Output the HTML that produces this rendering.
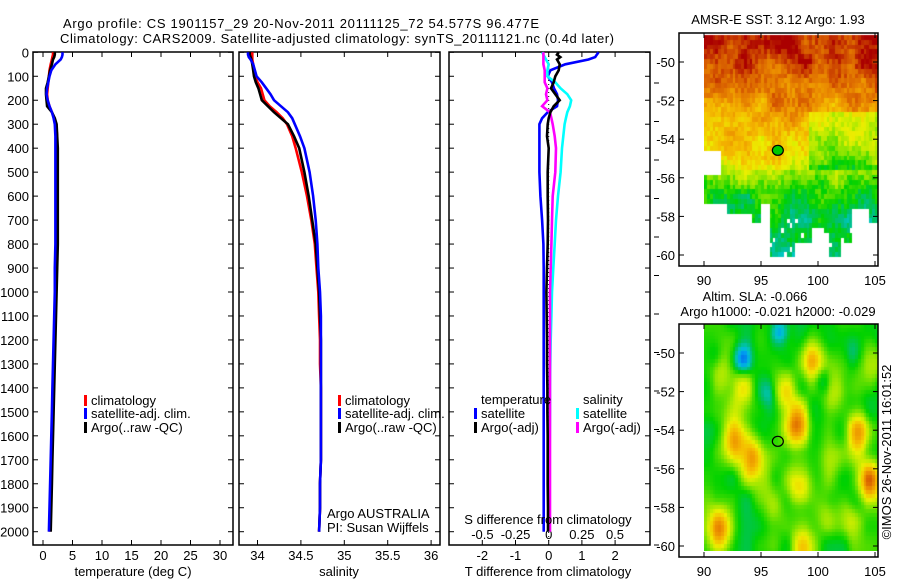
<!DOCTYPE html>
<html><head><meta charset="utf-8">
<style>
html,body{margin:0;padding:0;background:#fff;}
#wrap{position:relative;width:900px;height:580px;overflow:hidden;}
svg{position:absolute;left:0;top:0;}
canvas{position:absolute;}
text{font-family:"Liberation Sans",sans-serif;font-size:13px;fill:#000;}
</style></head>
<body>
<div id="wrap">
<canvas id="sst" width="174" height="227" style="left:704px;top:33px"></canvas>
<canvas id="sla" width="174" height="227" style="left:704px;top:324px"></canvas>
<svg id="fig" width="900" height="580" xmlns="http://www.w3.org/2000/svg">
<text x="63" y="28" font-size="14" textLength="476">Argo profile: CS 1901157_29 20-Nov-2011 20111125_72 54.577S 96.477E</text>
<text x="60" y="43" font-size="14" textLength="554">Climatology: CARS2009. Satellite-adjusted climatology: synTS_20111121.nc (0.4d later)</text>
<g id="g1"></g>
<g id="g2"></g>
<g id="g3"></g>
<g id="gm"></g>
</svg>
</div>
<script>
// ---- profile data ----
const depth = [0,10,20,30,50,75,100,125,150,175,200,225,250,275,300,350,400,500,600,700,800,900,1000,1100,1200,1300,1400,1500,1600,1700,1800,1900,2000];
const tClim = [1.7,1.7,1.6,1.5,1.3,1.1,1.0,0.9,0.8,0.7,0.8,1.1,1.5,1.9,2.2,2.4,2.4,2.4,2.4,2.3,2.3,2.2,2.1,2.0,1.9,1.8,1.7,1.6,1.5,1.4,1.3,1.2,1.1];
const tSat = [3.3,3.3,3.2,3.0,2.1,1.4,1.1,0.9,0.7,0.6,0.8,1.1,1.5,1.8,2.0,2.1,2.1,2.1,2.1,2.1,2.1,2.0,2.0,1.9,1.8,1.7,1.6,1.5,1.4,1.3,1.2,1.1,1.0];
const tArgo = [2.0,2.0,1.9,1.7,1.5,1.2,1.0,0.8,0.5,0.5,0.6,0.7,1.5,2.0,2.3,2.4,2.5,2.5,2.5,2.5,2.5,2.4,2.3,2.2,2.1,2.0,1.9,1.8,1.7,1.6,1.5,1.4,1.3];
const sClim = [33.94,33.94,33.94,33.94,33.95,33.96,33.97,34.0,34.04,34.06,34.08,34.14,34.22,34.29,34.34,34.40,34.44,34.51,34.57,34.62,34.66,34.68,34.70,34.71,34.72,34.72,34.73,34.73,34.73,34.73,34.72,34.72,34.71];
const sSat = [33.89,33.89,33.9,33.92,33.95,33.97,33.99,34.05,34.10,34.15,34.19,34.27,34.35,34.40,34.43,34.49,34.54,34.60,34.64,34.67,34.69,34.70,34.72,34.73,34.73,34.73,34.73,34.73,34.73,34.73,34.72,34.72,34.71];
const sArgo = [33.91,33.91,33.92,33.93,33.94,33.95,33.96,33.98,34.01,34.03,34.05,34.12,34.19,34.27,34.35,34.42,34.48,34.54,34.59,34.63,34.67,34.69,34.71,34.72,34.73,34.73,34.73,34.73,34.73,34.73,34.72,34.72,34.71];
const dTsat = [1.5,1.45,1.4,1.2,0.5,0.05,-0.03,0.1,0.16,0.25,0.28,0.25,-0.03,-0.2,-0.28,-0.28,-0.28,-0.28,-0.25,-0.2,-0.16,-0.15,-0.15,-0.15,-0.15,-0.15,-0.15,-0.15,-0.15,-0.15,-0.15,-0.15,-0.15];
const dTargo = [0.3,0.25,0.35,0.25,0.33,0.3,0.2,0.15,0.07,0.2,0.33,0.15,0.05,0.0,-0.03,-0.05,0.0,-0.03,-0.03,-0.02,-0.03,-0.05,-0.07,-0.06,-0.05,-0.05,-0.04,-0.04,-0.03,-0.03,-0.03,-0.02,-0.02];
const dSsat = [-0.05,-0.04,-0.03,-0.02,0.0,-0.01,-0.01,0.05,0.09,0.14,0.17,0.16,0.14,0.13,0.12,0.11,0.1,0.09,0.07,0.055,0.045,0.035,0.025,0.02,0.015,0.012,0.01,0.01,0.008,0.006,0.004,0.002,0.0];
const dSargo = [-0.04,-0.04,-0.04,-0.04,-0.04,-0.03,-0.03,-0.03,-0.01,-0.02,-0.01,-0.05,0.01,0.02,0.03,0.045,0.055,0.05,0.03,0.025,0.02,0.015,0.01,0.01,0.01,0.01,0.01,0.01,0.01,0.01,0.01,0.01,0.01];
const depthTicks = [0,100,200,300,400,500,600,700,800,900,1000,1100,1200,1300,1400,1500,1600,1700,1800,1900,2000];
const tTicks = [0,5,10,15,20,25,30];
const sTicks = [34,34.5,35,35.5,36];
const sTickLabels = ["34","34.5","35","35.5","36"];
const dTTicks = [-2,-1,0,1,2];
const dSTicks = [-0.5,-0.25,0,0.25,0.5];
const dSTickLabels = ["-0.5","-0.25","0","0.25","0.5"];

const NS='http://www.w3.org/2000/svg';
function mk(parent,tag,attrs,txt){const e=document.createElementNS(NS,tag);for(const k in attrs)e.setAttribute(k,attrs[k]);if(txt!==undefined)e.textContent=txt;parent.appendChild(e);return e;}
const yD = d => 52.3 + d*0.2397;
const TOP=52, BOT=545;

function frame(g,x0,x1,name){
  const r=mk(g,'rect',{x:x0,y:TOP,width:x1-x0,height:BOT-TOP,fill:'none',stroke:'#000','stroke-width':1.5});
  
  
  depthTicks.forEach(d=>{
    mk(g,'line',{x1:x0,x2:x0+5,y1:yD(d),y2:yD(d),stroke:'#000'});
    mk(g,'line',{x1:x1,x2:x1-5,y1:yD(d),y2:yD(d),stroke:'#000'});
  });
}
function xticks(g,ticks,labels,fx,y,name){
  ticks.forEach((t,i)=>{
    const x=fx(t);
    mk(g,'line',{x1:x,x2:x,y1:BOT,y2:BOT-5,stroke:'#000'});
    mk(g,'line',{x1:x,x2:x,y1:TOP,y2:TOP+5,stroke:'#000'});
    const tx=mk(g,'text',{x:x,y:y,'text-anchor':'middle'},labels[i]);
    
    
  });
}
function line(g,vals,fx,color,name,w){
  const pts=vals.map((v,i)=>fx(v).toFixed(1)+','+yD(depth[i]).toFixed(1)).join(' ');
  const p=mk(g,'polyline',{points:pts,fill:'none',stroke:color,'stroke-width':w||2.6,'stroke-linejoin':'miter'});
  
  
}
function legend(g,x,y,color,label,name){
  mk(g,'rect',{x:x,y:y-10,width:3,height:11,fill:color});
  const t=mk(g,'text',{x:x+7,y:y},label);
  
  
}

// Panel 1: temperature
const g1=document.getElementById('g1');
const xT = t => 43 + t*5.9;
frame(g1,33,233,'temperature-axes');
depthTicks.forEach(d=>{
  const t=mk(g1,'text',{x:29,y:yD(d)+5,'text-anchor':'end'},String(d));
  
  
});
xticks(g1,tTicks,tTicks.map(String),xT,560,'temperature-tick-label');
line(g1,tClim,xT,'#f00','temperature-climatology-line');
line(g1,tArgo,xT,'#000','temperature-argo-line');
line(g1,tSat,xT,'#00f','temperature-satellite-line');
{const t=mk(g1,'text',{x:133,y:576,'text-anchor':'middle'},'temperature (deg C)');}
legend(g1,84,405,'#f00','climatology','legend-climatology');
legend(g1,84,418,'#00f','satellite-adj. clim.','legend-satellite-adj');
legend(g1,84,432,'#000','Argo(..raw -QC)','legend-argo');

// Panel 2: salinity
const g2=document.getElementById('g2');
const xS = s => 257.5 + (s-34)*86.8;
frame(g2,239,440,'salinity-axes');
xticks(g2,sTicks,sTickLabels,xS,560,'salinity-tick-label');
line(g2,sClim,xS,'#f00','salinity-climatology-line');
line(g2,sArgo,xS,'#000','salinity-argo-line');
line(g2,sSat,xS,'#00f','salinity-satellite-line');
{const t=mk(g2,'text',{x:339,y:576,'text-anchor':'middle'},'salinity');}
legend(g2,338,405,'#f00','climatology','legend-climatology');
legend(g2,338,418,'#00f','satellite-adj. clim.','legend-satellite-adj');
legend(g2,338,432,'#000','Argo(..raw -QC)','legend-argo');
{const t=mk(g2,'text',{x:327,y:518},'Argo AUSTRALIA');}
{const t=mk(g2,'text',{x:327,y:532},'PI: Susan Wijffels');}

// Panel 3: differences
const g3=document.getElementById('g3');
const xdT = v => 548.7 + v*33.2;
const xdS = v => 548.7 + v*132.6;
frame(g3,449,650,'difference-axes');
xticks(g3,dTTicks,dTTicks.map(String),xdT,560,'t-diff-tick-label');
dSTicks.forEach((v,i)=>{const t=mk(g3,'text',{x:xdS(v),y:539,'text-anchor':'middle'},dSTickLabels[i]);});
mk(g3,'line',{x1:xdT(0),x2:xdT(0),y1:TOP,y2:BOT,stroke:'#000','stroke-dasharray':'1,3'});
line(g3,dTsat,xdT,'#00f','t-diff-satellite-line');
line(g3,dSsat,xdS,'#0ff','s-diff-satellite-line');
line(g3,dSargo,xdS,'#f0f','s-diff-argo-line');
line(g3,dTargo,xdT,'#000','t-diff-argo-line');
{const t=mk(g3,'text',{x:548,y:524,'text-anchor':'middle'},'S difference from climatology');}
{const t=mk(g3,'text',{x:548,y:576,'text-anchor':'middle'},'T difference from climatology');}
{const t=mk(g3,'text',{x:481,y:404},'temperature');}
{const t=mk(g3,'text',{x:583,y:404},'salinity');}
legend(g3,474,418,'#00f','satellite','legend-t-satellite');
legend(g3,474,432,'#000','Argo(-adj)','legend-t-argo');
legend(g3,576,418,'#0ff','satellite','legend-s-satellite');
legend(g3,576,432,'#f0f','Argo(-adj)','legend-s-argo');
for(let y=545;y>55;y-=38.5){mk(g3,'line',{x1:654,x2:659,y1:y,y2:y,stroke:'#000'});}

// ---- maps ----
const lonTicks=[90,95,100,105];
const latTicks=[-50,-52,-54,-56,-58,-60];
const floatLon=96.477, floatLat=-54.577;
const sstLatKnots=[-48.5,-50,-51,-52,-53,-54,-55,-55.6,-56.5,-57.5,-60.5];
const sstLatVals=[0.98,0.93,0.86,0.79,0.73,0.68,0.62,0.5,0.4,0.34,0.3];
const slaHigh=[[92.5,-54.3,0.35],[94,-55.3,0.4],[98,-53.6,0.4],[98.3,-56.8,0.3],[103.4,-54,0.35],[104.4,-56.5,0.45],[91.2,-59,0.4],[97,-52,0.25],[99.3,-50.3,0.3],[101.2,-51.8,0.2],[93.2,-51.8,0.2],[98.5,-60,0.3],[95,-56.5,0.15],[102.5,-58.5,0.15],[104.5,-50.5,0.2],[91.5,-50.5,0.15],[96,-58.5,0.12],[100.5,-58,0.12],[101,-55.5,0.1]];
const slaLow=[[93.3,-50.2,0.3],[96.5,-48.8,0.25],[95.5,-52,0.15],[100.2,-51.3,0.12],[91,-50,0.1],[103,-49.8,0.1]];

const gm=document.getElementById('gm');
const mx = lon => 704 + (lon-90)*11.4;
function mapAxes(y0,name,latRef){
  const my = lat => latRef + (-50-lat)*19.3;
  const r=mk(gm,'rect',{x:679,y:y0,width:199,height:233,fill:'none',stroke:'#000','stroke-width':1.5});
  
  
  latTicks.forEach(l=>{
    mk(gm,'line',{x1:679,x2:684,y1:my(l),y2:my(l),stroke:'#000'});
    mk(gm,'line',{x1:878,x2:873,y1:my(l),y2:my(l),stroke:'#000'});
    const t=mk(gm,'text',{x:675,y:my(l)+5,'text-anchor':'end'},String(l));
    
    
  });
  lonTicks.forEach(l=>{
    mk(gm,'line',{x1:mx(l),x2:mx(l),y1:y0+233,y2:y0+228,stroke:'#000'});
    mk(gm,'line',{x1:mx(l),x2:mx(l),y1:y0,y2:y0+5,stroke:'#000'});
    const t=mk(gm,'text',{x:mx(l),y:y0+252,'text-anchor':'middle'},String(l));
    
    
  });
  return my;
}
const myTop=mapAxes(33,'sst-map-axes',62);
const myBot=mapAxes(324,'sla-map-axes',353);
{const t=mk(gm,'text',{x:778,y:24,'text-anchor':'middle'},'AMSR-E SST: 3.12 Argo: 1.93');}
{const t=mk(gm,'text',{x:755,y:301,'text-anchor':'middle'},'Altim. SLA: -0.066');}
{const t=mk(gm,'text',{x:778,y:316,'text-anchor':'middle'},'Argo h1000: -0.021 h2000: -0.029');}
{const t=mk(gm,'text',{x:0,y:0,transform:'translate(891,452) rotate(-90)','text-anchor':'middle'},'©IMOS 26-Nov-2011 16:01:52');}
{const c=mk(gm,'ellipse',{cx:mx(floatLon),cy:myTop(floatLat),rx:5.5,ry:5,fill:'#00c800',stroke:'#000','stroke-width':1.2});}
{const c=mk(gm,'ellipse',{cx:mx(floatLon),cy:myBot(floatLat),rx:5.5,ry:5,fill:'none',stroke:'#000','stroke-width':1.2});}

const stops=[[0,[0,80,230]],[0.12,[0,160,240]],[0.2,[0,200,200]],[0.28,[0,190,120]],[0.38,[0,210,0]],[0.5,[150,230,0]],[0.6,[235,240,0]],[0.7,[245,190,0]],[0.8,[235,140,0]],[0.9,[210,80,0]],[1,[170,0,0]]];
function cmap(v){v=Math.max(0,Math.min(1,v));for(let i=1;i<stops.length;i++){if(v<=stops[i][0]){const a=stops[i-1],b=stops[i],f=(v-a[0])/(b[0]-a[0]);return a[1].map((c,k)=>Math.round(c+(b[1][k]-c)*f));}}return stops[stops.length-1][1];}
function hash(i,j){let h=(i*374761393+j*668265263)|0;h=(h^(h>>>13))*1274126177|0;return ((h^(h>>>16))>>>0)/4294967295;}
function vnoise(x,y){const i=Math.floor(x),j=Math.floor(y),fx=x-i,fy=y-j;const a=hash(i,j),b=hash(i+1,j),c=hash(i,j+1),d=hash(i+1,j+1);const sx=fx*fx*(3-2*fx),sy=fy*fy*(3-2*fy);return a+(b-a)*sx+(c-a)*sy+(a-b-c+d)*sx*sy;}
function interp(xs,ys,x){for(let i=1;i<xs.length;i++){if(x>=xs[i]){const f=(x-xs[i-1])/(xs[i]-xs[i-1]);return ys[i-1]+(ys[i]-ys[i-1])*f;}}return ys[ys.length-1];}
const sstEdgeLon=[89.9,92,94.2,95,95.7,98,99.5,100.5,101,102,103,104.5,105.3];
const sstEdgeLat=[-57.3,-57.6,-58.1,-57.2,-59.9,-59.2,-58.5,-58.8,-59.9,-59.2,-57.4,-58.3,-58.3];
function edge(lon){for(let i=sstEdgeLon.length-1;i>=0;i--){if(lon>=sstEdgeLon[i])return sstEdgeLat[i];}return sstEdgeLat[0];}

(function(){
  const c=document.getElementById('sst').getContext('2d');
  for(let lon=90;lon<105.25;lon+=0.25){for(let lat=-48.6;lat>-60.3;lat-=0.25){
    const i=Math.round(lon*4),j=Math.round(-lat*4);
    if(lat<edge(lon)) continue;
    if(lon<91.3 && lat<-54.4 && lat>-55.8) continue;
    if(lat<-58 && hash(i+7,j+3)<0.08) continue;
    let v=interp(sstLatKnots,sstLatVals,lat);
    if(lon>99 && lat<-52.5 && lat>-55.5) v-=0.15;
    v+=(vnoise(lon/1.3,-lat/1.0)-0.5)*0.18;
    v+=(hash(i,j)-0.5)*0.1;
    const col=cmap(v);
    c.fillStyle='rgb('+col.join(',')+')';
    c.fillRect(Math.round(mx(lon)-704),Math.round(myTop(lat)-33),3,5);
  }}
})();
(function(){
  const c=document.getElementById('sla').getContext('2d');
  for(let lon=90;lon<105.25;lon+=0.25){for(let lat=-48.5;lat>-60.2;lat-=0.2){
    let v=0.38+(vnoise(lon/1.2+20,-lat/1.2)-0.5)*0.14;
    slaHigh.forEach(b=>{v+=b[2]*Math.exp(-(((lon-b[0])/1.0)**2+((lat-b[1])/1.1)**2));});
    slaLow.forEach(b=>{v-=b[2]*Math.exp(-(((lon-b[0])/0.7)**2+((lat-b[1])/0.7)**2));});
    const col=cmap(v);
    c.fillStyle='rgb('+col.join(',')+')';
    c.fillRect(Math.round(mx(lon)-704),Math.round(myBot(lat)-324),3,4);
  }}
})();
</script>
</body></html>
